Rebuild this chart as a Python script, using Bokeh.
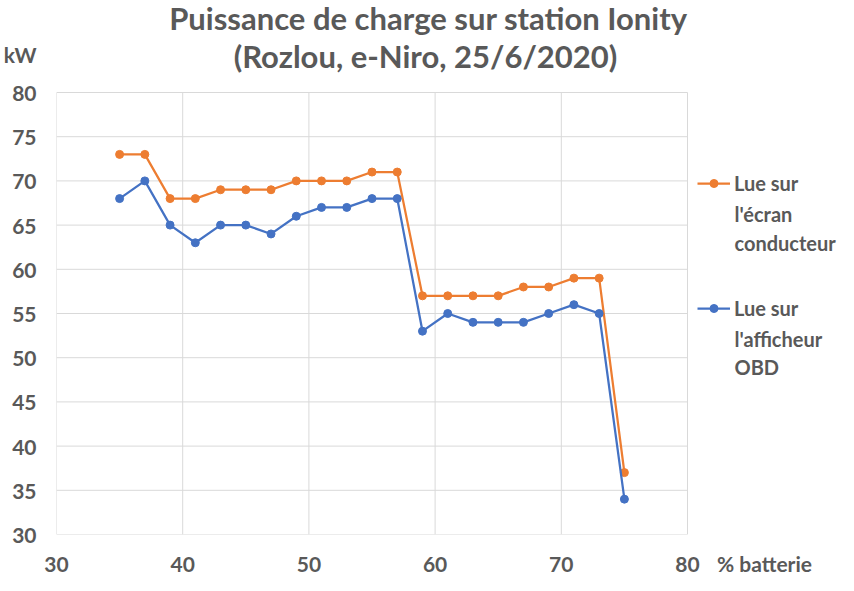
from bokeh.plotting import figure
from bokeh.models import Label, Legend, LegendItem, Range1d, FixedTicker
from bokeh.embed import file_html
from bokeh.resources import INLINE

# ---- data ----
battery = [35, 37, 39, 41, 43, 45, 47, 49, 51, 53, 55, 57, 59, 61, 63, 65, 67, 69, 71, 73, 75]
ecran = [73, 73, 68, 68, 69, 69, 69, 70, 70, 70, 71, 71, 57, 57, 57, 57, 58, 58, 59, 59, 37]
obd = [68, 70, 65, 63, 65, 65, 64, 66, 67, 67, 68, 68, 53, 55, 54, 54, 54, 55, 56, 55, 34]
x_ticks = [30, 40, 50, 60, 70, 80]
y_ticks = [30, 35, 40, 45, 50, 55, 60, 65, 70, 75, 80]
title_lines = ["Puissance de charge sur station Ionity", "(Rozlou, e-Niro, 25/6/2020)"]
series_names = [["Lue sur", "l'écran", "conducteur"], ["Lue sur", "l'afficheur", "OBD"]]
x_unit = "% batterie"
y_unit = "kW"

ORANGE = "#ED7D31"
BLUE = "#4472C4"
GREY = "#595959"
GRID = "#d9d9d9"
FONT = "Lato"

# ---- layout (picture pixels) ----
W, H = 846, 583
PL, PR, PT, PB = 56, 687, 92, 534          # plot area edges
XMIN, XMAX = x_ticks[0], x_ticks[-1]
YMIN, YMAX = y_ticks[0], y_ticks[-1]
sx = (PR - PL) / (XMAX - XMIN)
sy = (PB - PT) / (YMAX - YMIN)

def dx(px):  # picture x -> data x
    return XMIN + (px - PL) / sx

def dy(py):  # picture y -> data y
    return YMIN + (PB - py) / sy

# frame spans from the plot area's left/bottom to the canvas top/right
p = figure(width=W, height=H, output_backend="svg", toolbar_location=None,
           x_range=Range1d(XMIN, dx(W)), y_range=Range1d(YMIN, dy(0)),
           min_border_left=PL, min_border_right=0, min_border_top=0, min_border_bottom=H - PB)
p.outline_line_color = None
p.grid.visible = False

x_unit_pos = dx(764)
y_unit_pos = dy(54)
p.xaxis.ticker = FixedTicker(ticks=x_ticks + [x_unit_pos])
p.yaxis.ticker = FixedTicker(ticks=y_ticks + [y_unit_pos])
p.xaxis.major_label_overrides = {x_unit_pos: x_unit}
p.yaxis.major_label_overrides = {y_unit_pos: y_unit}
for ax in (p.xaxis[0], p.yaxis[0]):
    ax.axis_line_color = None
    ax.major_tick_line_color = None
    ax.minor_tick_line_color = None
    ax.major_tick_out = 0
    ax.major_tick_in = 0
    ax.major_label_text_font = FONT
    ax.major_label_text_font_style = "bold"
    ax.major_label_text_font_size = "21px"
    ax.major_label_text_color = GREY
p.yaxis.major_label_standoff = 20
p.xaxis.major_label_standoff = 16

# grid limited to the plot area
p.segment(x0=x_ticks, y0=[YMIN] * len(x_ticks), x1=x_ticks, y1=[YMAX] * len(x_ticks),
          line_color=GRID, line_width=1)
p.segment(x0=[XMIN] * len(y_ticks), y0=y_ticks, x1=[XMAX] * len(y_ticks), y1=y_ticks,
          line_color=GRID, line_width=1)

r1 = p.line(battery, ecran, line_color=ORANGE, line_width=2.25)
c1 = p.scatter(battery, ecran, size=8, fill_color=ORANGE, line_color=ORANGE)
r2 = p.line(battery, obd, line_color=BLUE, line_width=2.25)
c2 = p.scatter(battery, obd, size=8, fill_color=BLUE, line_color=BLUE)

def lab(text, px, py, size="20px", align="left"):
    p.add_layout(Label(x=px - PL, y=PB - py, x_units="screen", y_units="screen", text=text,
                       text_font=FONT, text_font_style="bold", text_font_size=size,
                       text_color=GREY, text_align=align, text_baseline="middle"))

lab(title_lines[0], 428, 17, size="31px", align="center")
lab(title_lines[1], 425, 55, size="31px", align="center")

legend = Legend(items=[LegendItem(label=series_names[0][0], renderers=[r1, c1]),
                       LegendItem(label=series_names[1][0], renderers=[r2, c2])],
                location=(697 - PL, PB - 320), border_line_color=None,
                background_fill_alpha=0, padding=0, margin=0, glyph_width=33,
                glyph_height=20, label_height=20, label_standoff=4, spacing=101,
                label_text_font=FONT, label_text_font_style="bold",
                label_text_font_size="20px", label_text_color=GREY)
p.add_layout(legend)
lab(series_names[0][1], 734, 213)
lab(series_names[0][2], 734, 242)
lab(series_names[1][1], 734, 338)
lab(series_names[1][2], 734, 366)

open("out.html", "w").write(file_html(p, INLINE))
